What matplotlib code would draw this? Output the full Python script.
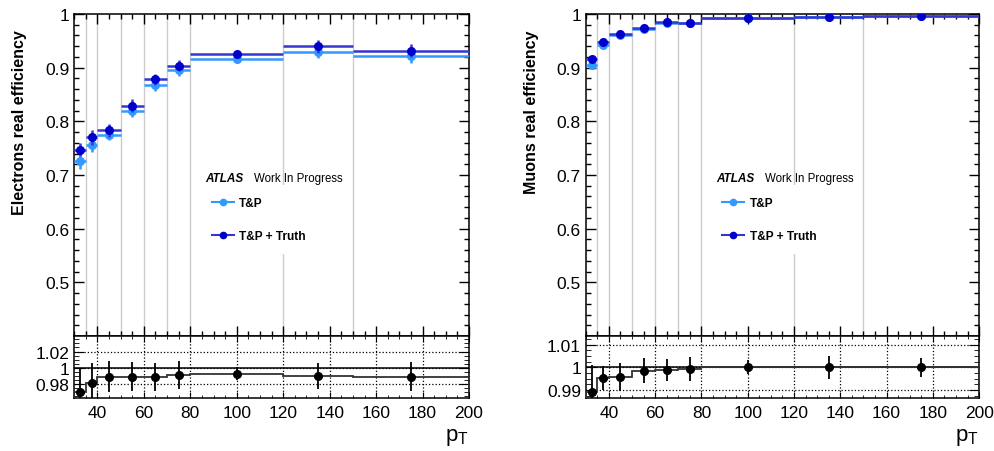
import matplotlib
matplotlib.use('Agg')
import matplotlib.pyplot as plt
from matplotlib.ticker import MultipleLocator, FixedLocator
from matplotlib.lines import Line2D
import numpy as np

plt.rcParams['font.family'] = ['Liberation Sans', 'DejaVu Sans']
plt.rcParams['axes.linewidth'] = 1.1

# ---------- data ----------
bin_edges = [30, 35, 40, 50, 60, 70, 80, 120, 150, 200]
pt = [32.5, 37.5, 45, 55, 65, 75, 100, 135, 175]

el_tp = [0.726, 0.756, 0.7745, 0.819, 0.868, 0.896, 0.917, 0.930, 0.921]
el_tp_err = [0.014, 0.013, 0.010, 0.010, 0.011, 0.011, 0.006, 0.012, 0.012]
el_truth = [0.747, 0.770, 0.783, 0.829, 0.878, 0.904, 0.925, 0.940, 0.932]
el_truth_err = [0.012, 0.014, 0.012, 0.012, 0.011, 0.011, 0.006, 0.012, 0.012]
el_ratio = [0.970, 0.981, 0.989, 0.989, 0.989, 0.991, 0.993, 0.990, 0.989]
el_ratio_err = [0.028, 0.025, 0.019, 0.018, 0.017, 0.017, 0.008, 0.016, 0.018]

mu_tp = [0.905, 0.942, 0.960, 0.972, 0.984, 0.983, 0.9925, 0.9938, 0.9957]
mu_tp_err = [0.006, 0.005, 0.004, 0.003, 0.003, 0.003, 0.002, 0.003, 0.003]
mu_truth = [0.916, 0.947, 0.963, 0.973, 0.985, 0.984, 0.9925, 0.9938, 0.9957]
mu_truth_err = [0.006, 0.005, 0.004, 0.003, 0.003, 0.003, 0.002, 0.003, 0.003]
mu_ratio = [0.9889, 0.9952, 0.9958, 0.9985, 0.9989, 0.9993, 1.0001, 1.0, 1.0]
mu_ratio_err = [0.012, 0.0052, 0.0063, 0.0056, 0.0049, 0.0054, 0.003, 0.005, 0.0043]

LIGHT = '#3399ff'
DARK = '#0000cc'
DARK_LINE = '#3535d0'

fig = plt.figure(figsize=(9.95, 4.52), dpi=100)


def draw_panel(x0, width, ylabel, tp, tp_err, truth, truth_err, ratio, ratio_err,
               r_lim, r_ticks, r_labels, r_minor):
    ax = fig.add_axes([x0, 0.2544, width, 0.7124])
    axr = fig.add_axes([x0, 0.1173, width, 0.1371], sharex=ax)

    xerr = np.diff(bin_edges) / 2.0

    # grey bin-edge lines
    for e in bin_edges[1:-1]:
        ax.axvline(e, color='#cccccc', lw=1.0, zorder=0)

    ax.errorbar(pt, tp, xerr=xerr, yerr=tp_err, fmt='o', color=LIGHT, ecolor=LIGHT,
                ms=5.5, elinewidth=1.8, capsize=0, zorder=3)
    ax.errorbar(pt, truth, xerr=xerr, yerr=truth_err, fmt='o', color=DARK, ecolor=DARK_LINE,
                ms=5.5, elinewidth=1.8, capsize=0, zorder=4)

    ax.set_xlim(30, 200)
    ax.set_ylim(0.4, 1.0)
    ax.yaxis.set_major_locator(FixedLocator([0.5, 0.6, 0.7, 0.8, 0.9, 1.0]))
    ax.set_yticklabels(['0.5', '0.6', '0.7', '0.8', '0.9', '1'])
    ax.yaxis.set_minor_locator(MultipleLocator(0.02))
    ax.xaxis.set_major_locator(MultipleLocator(20))
    ax.xaxis.set_minor_locator(MultipleLocator(5))
    ax.tick_params(which='both', direction='in', top=True, right=True, labelsize=12.5)
    ax.tick_params(which='major', length=7, width=1.0)
    ax.tick_params(which='minor', length=3.5, width=1.0)
    ax.tick_params(axis='x', labelbottom=False)
    ax.set_ylabel(ylabel, fontsize=11.5, fontweight='bold', ha='right')
    ax.yaxis.set_label_coords(-0.12, 0.953)

    ax.text(0.331, 0.49, 'ATLAS', transform=ax.transAxes, fontsize=8.5,
            fontweight='bold', fontstyle='italic', va='center')
    ax.text(0.4554, 0.49, 'Work In Progress', transform=ax.transAxes, fontsize=8.3,
            va='center')

    handles = [Line2D([], [], color=LIGHT, marker='o', ms=4.5, lw=1.5),
               Line2D([], [], color=DARK_LINE, marker='o', mfc=DARK, mec=DARK, ms=4.5, lw=1.5)]
    leg = ax.legend(handles, ['T&P', 'T&P + Truth'], loc='center',
                    bbox_to_anchor=(0.467, 0.362), frameon=True, fancybox=False,
                    facecolor='white', edgecolor='none', framealpha=1.0,
                    prop={'weight': 'bold', 'size': 8.6}, handlelength=1.85,
                    handletextpad=0.45, labelspacing=1.75, borderpad=1.0)
    leg.set_zorder(2)

    # ratio panel
    axr.stairs(ratio, bin_edges, color='#333333', lw=1.3, zorder=3)
    axr.errorbar(pt, ratio, yerr=ratio_err, fmt='o', color='black', ms=5.5,
                 elinewidth=1.3, capsize=0, zorder=4)
    axr.axhline(1.0, color='black', lw=1.1, zorder=2)
    axr.set_ylim(*r_lim)
    axr.yaxis.set_major_locator(FixedLocator(r_ticks))
    axr.set_yticklabels(r_labels)
    axr.yaxis.set_minor_locator(MultipleLocator(r_minor))
    axr.grid(True, which='major', color='black', ls=':', lw=0.9)
    axr.tick_params(which='both', direction='in', top=True, right=True, labelsize=12.5)
    axr.tick_params(axis='y', which='major', length=7)
    axr.tick_params(axis='y', which='minor', length=3.5)
    axr.tick_params(axis='x', which='major', length=4, pad=5)
    axr.tick_params(axis='x', which='minor', length=2.5)
    axr.set_xlabel(r'$\mathregular{p_T}$', fontsize=16, loc='right')
    axr.xaxis.set_label_coords(1.0, -0.45)
    return ax, axr


draw_panel(0.0745, 0.3969, 'Electrons real efficiency', el_tp, el_tp_err, el_truth,
           el_truth_err, el_ratio, el_ratio_err, (0.963, 1.039),
           [0.98, 1.0, 1.02], ['0.98', '1', '1.02'], 0.005)
draw_panel(0.5887, 0.3953, 'Muons real efficiency', mu_tp, mu_tp_err, mu_truth,
           mu_truth_err, mu_ratio, mu_ratio_err, (0.9864, 1.0139),
           [0.99, 1.0, 1.01], ['0.99', '1', '1.01'], 0.0025)

fig.savefig('out.png', dpi=100)
